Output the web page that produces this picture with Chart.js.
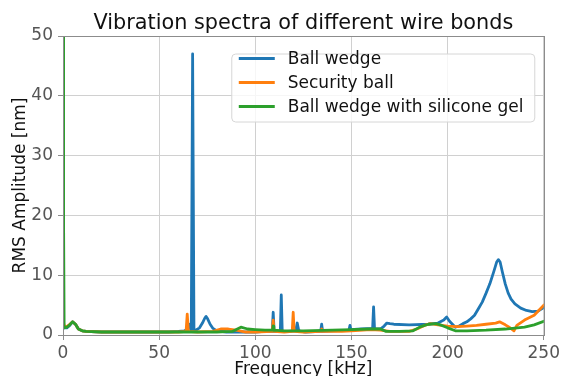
<!DOCTYPE html>
<html><head><meta charset="utf-8">
<script src="https://cdn.jsdelivr.net/npm/chart.js@4"></script>
<style>html,body{margin:0;padding:0;background:#fff;overflow:hidden}#wrap{width:563px;height:376px;position:relative}</style>
</head><body><div id="wrap"><canvas id="c" width="563" height="376"></canvas></div>
<script>
const chartTitle = "Vibration spectra of different wire bonds";
const xLabel = "Frequency [kHz]";
const yLabel = "RMS Amplitude [nm]";
const seriesNames = ["Ball wedge", "Security ball", "Ball wedge with silicone gel"];
const seriesColors = ["#1f77b4", "#ff7f0e", "#2ca02c"];

const blueF = [0,0.5,2,3.5,5,6.5,8,10,12,20,30,40,50,55,60,63,65,66,66.7,67.4,68.1,69,71,72.5,73.7,74.4,75.2,76.5,78,80,85,90,95,100,105,108.8,109.3,109.8,113,113.5,114,117,121,121.8,122.6,126,134,134.5,135,140,148.7,149.2,149.7,155,161,161.5,162,165,167,168.4,170,172,180,190,195,198,199.5,201,204,206,208,210,212,214,216,218,220,222,224,225.5,226.4,227.3,228.5,230,231.5,233,235,238,241,244,247,250];
const blueV = [1.5,1.2,1.2,1.6,2.2,1.8,1.0,0.7,0.6,0.5,0.5,0.5,0.5,0.5,0.6,0.7,0.9,1.8,0.8,47,0.8,0.8,1.2,2.0,2.8,3.1,2.7,1.8,1.1,0.7,0.5,0.5,0.5,0.5,0.6,0.6,3.8,0.6,0.6,6.7,0.6,0.6,0.7,2.0,0.7,0.5,0.6,1.8,0.6,0.7,0.8,1.6,0.9,1.0,1.1,4.7,1.0,1.0,1.5,2.0,1.9,1.8,1.7,1.8,2.0,2.5,3.0,2.3,1.3,1.5,1.9,2.2,2.7,3.3,4.4,5.5,7.0,8.6,10.6,12.2,12.6,12.2,10.5,8.5,7.0,6.0,5.2,4.5,4.1,3.9,4.0,4.6];

const orangeF = [0,0.5,2,3.5,5,6.5,8,10,12,20,40,60,64,64.6,65.2,70,78,82,86,90,95,100,108.8,109.3,109.8,115,119.2,119.7,120.2,125,134,134.5,135,145,150,160,165,170,180,184,188,191,195,200,205,210,215,220,225,227,230,232,234.5,236,240,245,250];
const orangeV = [1.8,1.5,1.4,1.8,2.2,1.8,1.0,0.7,0.6,0.5,0.5,0.5,0.6,3.5,0.6,0.5,0.6,1.0,1.0,0.8,0.5,0.5,0.6,2.5,0.6,0.5,0.6,3.8,0.6,0.5,0.6,1.0,0.6,0.6,0.7,0.9,0.8,0.6,0.6,1.0,1.6,1.9,1.7,1.5,1.4,1.5,1.6,1.8,2.0,2.2,1.7,1.3,0.7,1.6,2.5,3.3,5.0];

const greenF = [0,0.3,0.6,2,3.5,5,6.5,8,10,12,20,40,60,80,88,92.5,96,100,105,109,109.3,109.6,115,125,140,150,160,165,168,175,182,186,190,194,197,200,204,210,220,230,240,245,250];
const greenV = [60,19,1.2,1.3,1.7,2.2,1.8,1.0,0.7,0.6,0.5,0.5,0.5,0.5,0.6,1.3,1.0,0.9,0.8,0.8,1.5,0.8,0.7,0.7,0.8,0.9,1.0,1.0,0.6,0.6,0.7,1.4,1.8,1.9,1.6,1.2,0.7,0.7,0.8,1.0,1.3,1.7,2.3];

const xTicks = [0,50,100,150,200,250];
const yTicks = [0,10,20,30,40,50];

const FONT = "'DejaVu Sans', sans-serif";
const pts = (f, v) => f.map((x, i) => ({x: x, y: v[i]}));
const allF = [blueF, orangeF, greenF];
const allV = [blueV, orangeV, greenV];

const datasets = seriesNames.map((name, i) => ({
  label: name,
  data: pts(allF[i], allV[i]),
  borderColor: seriesColors[i],
  backgroundColor: seriesColors[i],
  borderWidth: 2.8,
  pointRadius: 0,
  tension: 0,
  fill: false,
  borderJoinStyle: 'round',
  borderCapStyle: 'round',
  order: 2 - i
}));

const decor = {
  id: 'decor',
  afterDatasetsDraw(chart) {
    const ctx = chart.ctx, a = chart.chartArea;
    ctx.save();
    ctx.strokeStyle = '#8c8c8c';
    ctx.lineWidth = 1;
    ctx.strokeRect(Math.round(a.left) + 0.5, Math.round(a.top) + 0.5, Math.round(a.right - a.left), Math.round(a.bottom - a.top));
    ctx.fillStyle = '#111';
    ctx.font = "20.8px " + FONT;
    ctx.textAlign = 'center';
    ctx.textBaseline = 'alphabetic';
    ctx.fillText(chartTitle, (a.left + a.right) / 2, 29);
    const lw = 303, lh = 68, r = 4;
    const lx = a.right - 9 - lw, ly = a.top + 18;
    ctx.beginPath();
    ctx.moveTo(lx + r, ly);
    ctx.arcTo(lx + lw, ly, lx + lw, ly + lh, r);
    ctx.arcTo(lx + lw, ly + lh, lx, ly + lh, r);
    ctx.arcTo(lx, ly + lh, lx, ly, r);
    ctx.arcTo(lx, ly, lx + lw, ly, r);
    ctx.closePath();
    ctx.fillStyle = 'rgba(255,255,255,0.8)';
    ctx.fill();
    ctx.strokeStyle = '#d6d6d6';
    ctx.stroke();
    ctx.font = "17px " + FONT;
    ctx.textAlign = 'left';
    ctx.textBaseline = 'middle';
    chart.data.datasets.forEach((ds, i) => {
      const yy = ly + 4.5 + i * 24;
      ctx.strokeStyle = ds.borderColor;
      ctx.lineWidth = 2.8;
      ctx.beginPath();
      ctx.moveTo(lx + 7, yy);
      ctx.lineTo(lx + 43, yy);
      ctx.stroke();
      ctx.fillStyle = '#111';
      ctx.fillText(ds.label, lx + 56, yy + 1);
    });
    ctx.restore();
  }
};

new Chart(document.getElementById('c'), {
  type: 'line',
  data: { datasets: datasets },
  options: {
    responsive: false,
    devicePixelRatio: 1,
    animation: false,
    layout: { padding: { top: 36, right: 17, left: 0, bottom: 0 } },
    plugins: { legend: { display: false }, title: { display: false }, tooltip: { enabled: false } },
    scales: {
      x: {
        type: 'linear', min: 0, max: 250,
        afterBuildTicks: s => { s.ticks = xTicks.map(v => ({value: v})); },
        afterFit: s => { s.height = 41; },
        ticks: { color: '#555', font: { family: FONT, size: 17 }, padding: 3, maxRotation: 0 },
        grid: { color: '#d0d0d0', tickColor: '#8c8c8c', tickLength: 5, drawTicks: true },
        border: { display: true, color: '#8c8c8c' },
        title: { display: true, text: xLabel, color: '#111', font: { family: FONT, size: 17 }, padding: { top: 0, bottom: -4 } }
      },
      y: {
        type: 'linear', min: 0, max: 50,
        afterBuildTicks: s => { s.ticks = yTicks.map(v => ({value: v})); },
        afterFit: s => { s.width = 63; },
        ticks: { color: '#555', font: { family: FONT, size: 17 }, padding: 5 },
        grid: { color: '#d0d0d0', tickColor: '#8c8c8c', tickLength: 5, drawTicks: true },
        border: { display: true, color: '#8c8c8c' },
        title: { display: true, text: yLabel, color: '#111', font: { family: FONT, size: 17 }, padding: { top: 10, bottom: 0 } }
      }
    }
  },
  plugins: [decor]
});
</script></body></html>
